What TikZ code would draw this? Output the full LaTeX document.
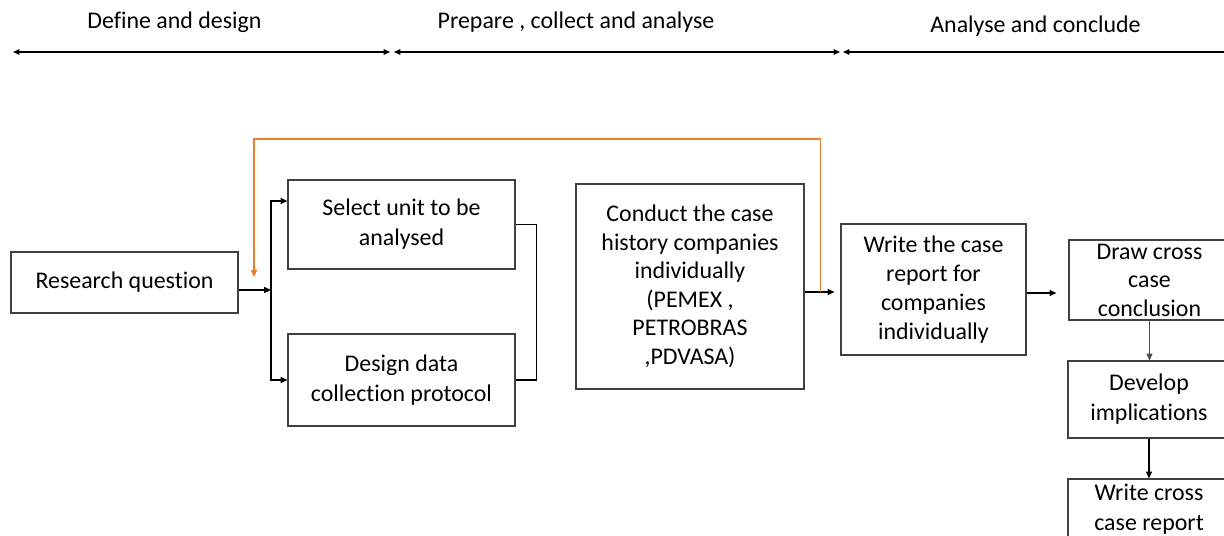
\documentclass[tikz,border=0pt]{standalone}
\usepackage{fontspec}
\setmainfont[Ligatures=NoCommon]{Carlito}
\usetikzlibrary{calc, positioning}
\usetikzlibrary{arrows.meta}
\definecolor{fborange}{RGB}{237,125,49}

\begin{document}
\begin{tikzpicture}[x=0.025cm,y=-0.025cm,
  font=\fontsize{17}{21.3}\selectfont,
  stage/.style={draw=black!75, line width=0.8pt, align=center, inner ysep=2pt},
  line/.style={line width=1pt},
  arr/.style={line, -{Triangle[length=1.7mm,width=1.5mm]}},
  span/.style={line width=0.8pt, {Triangle[length=1.6mm,width=1.4mm]}-{Triangle[length=1.6mm,width=1.4mm]}},
  fb/.style={arr, fborange}]
\useasboundingbox (0,0) rectangle (1224,535);
\clip (0,0) rectangle (1224,535);

% phases on top
\foreach \ph/\xa/\xb in {def/13/390, pre/394/840, ana/843/1234} {
  \coordinate (\ph-l) at (\xa,52);
  \coordinate (\ph-r) at (\xb,52);
  \draw[span] (\ph-l) -- (\ph-r);
}
\node (lbl-def) at (174.5,22) {Define and design};
\node (lbl-pre) at (576,22) {Prepare , collect and analyse};
\node (lbl-ana) at (1035.5,26) {Analyse and conclude};

% steps
\node[stage, minimum width=5.675cm, minimum height=1.525cm] (rq) at (124.5,282.5) {Research question};
\node[stage, minimum width=5.675cm, minimum height=2.225cm] (sel) at (401.5,224.5) {Select unit to be\\analysed};
\node[stage, minimum width=5.675cm, minimum height=2.3cm] (des) at (401.5,380) {Design data\\collection protocol};
\node[stage, minimum width=5.7cm, minimum height=5.125cm, font=\fontsize{17}{20.3}\selectfont] (con) at (690,286.5)
  {Conduct the case\\history companies\\individually\\(PEMEX ,\\PETROBRAS\\,PDVASA)};
\node[stage, minimum width=4.625cm, minimum height=3.275cm, font=\fontsize{17}{20.6}\selectfont] (wri) at (933.5,289.5)
  {Write the case\\report for\\companies\\individually};
\node[stage, minimum width=4.025cm, minimum height=2cm, inner ysep=0pt, font=\fontsize{17}{20.3}\selectfont] (drw) at (1149.5,280)
  {Draw cross\\case\\conclusion};
\node[stage, minimum width=4.05cm, minimum height=1.925cm] (dev) at (1149,399.5) {Develop\\implications};
\node[stage, minimum width=4.05cm, minimum height=1.5cm] (wcr) at (1149,509) {Write cross\\case report};

% connectors
\coordinate (bus) at (271,290);
\draw[arr] (rq.east |- bus) -- (bus);
\draw[arr] (bus) |- ($(sel.west)+(0,-23.5)$);
\draw[arr] (bus) |- (des.west);
\draw[line] (sel.east) -- ++(21,0) |- (des.east);

\coordinate (cw) at ($(con.east)+(0,5.5)$);
\draw[arr, shorten >=1.5mm] (cw) -- (cw -| wri.west);
\coordinate (fbtop) at (254,139);
\coordinate (fbend) at (254,277);
\draw[fb] ($(cw)+(16,0)$) |- (fbtop) -- (fbend);

\coordinate (wd) at ($(wri.east)+(0,3.5)$);
\draw[arr, shorten >=3mm] (wd) -- (wd -| drw.west);
\draw[arr, line width=0.6pt, black!70] (drw.south) -- (drw.south |- dev.north);
\draw[arr] (dev.south) -- (dev.south |- wcr.north);
\end{tikzpicture}
\end{document}
